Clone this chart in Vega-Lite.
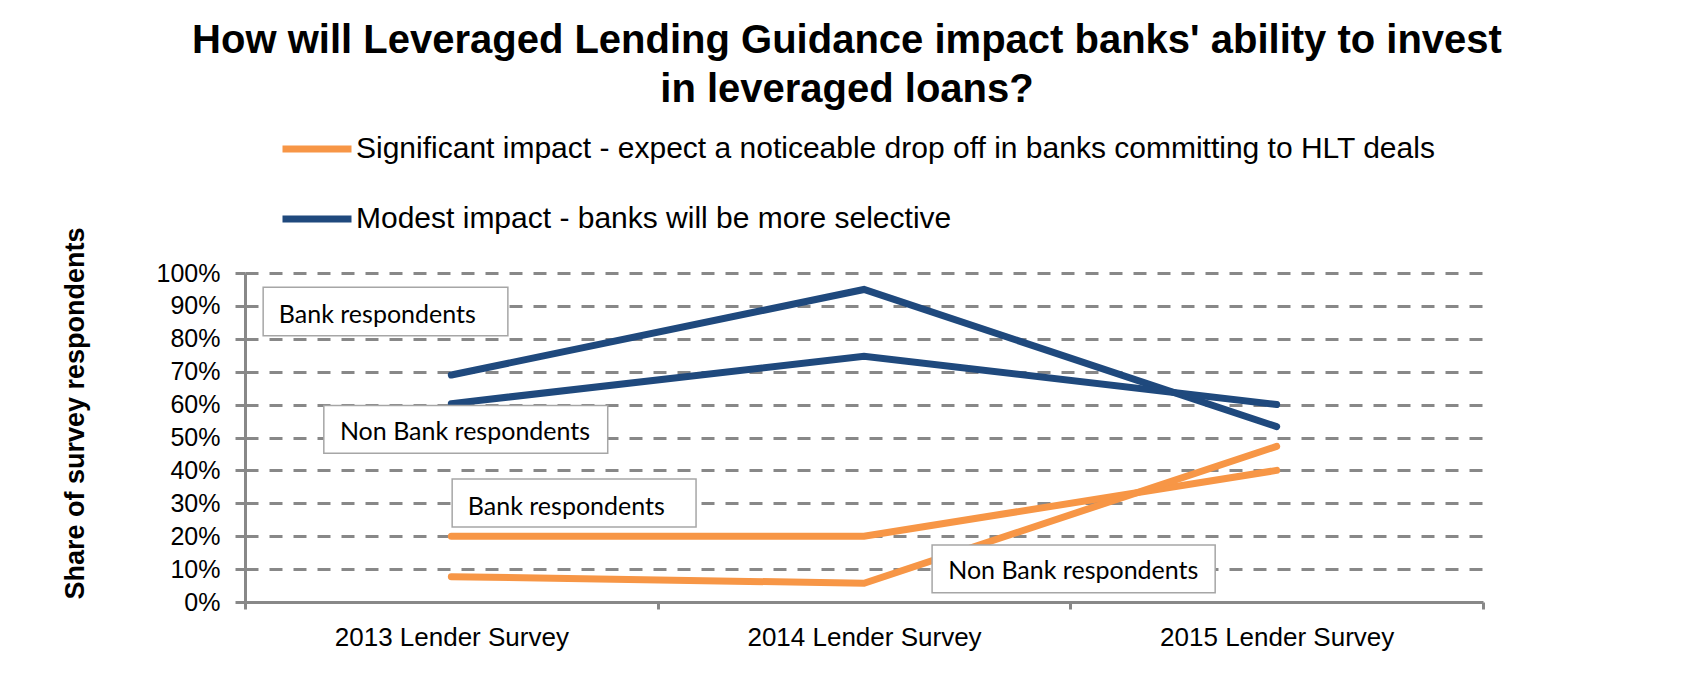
{
  "$schema": "https://vega.github.io/schema/vega-lite/v6.json",
  "width": 1238,
  "height": 329,
  "autosize": {"type": "none"},
  "padding": {"left": 245, "top": 273, "right": 217, "bottom": 95},
  "background": "white",
  "config": {
    "view": {"stroke": null},
    "font": "Liberation Sans"
  },
  "title": {
    "text": ["How will Leveraged Lending Guidance impact banks' ability to invest", "in leveraged loans?"],
    "font": "Liberation Sans",
    "fontSize": 40,
    "fontWeight": "bold",
    "lineHeight": 49,
    "color": "black",
    "anchor": "middle",
    "frame": "group",
    "dx": -17,
    "dy": 9,
    "offset": 10
  },
  "datasets": {
    "lines": [
      {"survey": "2013 Lender Survey", "impact": "Significant impact - expect a noticeable drop off in banks committing to HLT deals", "respondent": "Bank", "share": 20},
      {"survey": "2014 Lender Survey", "impact": "Significant impact - expect a noticeable drop off in banks committing to HLT deals", "respondent": "Bank", "share": 20},
      {"survey": "2015 Lender Survey", "impact": "Significant impact - expect a noticeable drop off in banks committing to HLT deals", "respondent": "Bank", "share": 40},
      {"survey": "2013 Lender Survey", "impact": "Significant impact - expect a noticeable drop off in banks committing to HLT deals", "respondent": "Non Bank", "share": 7.7},
      {"survey": "2014 Lender Survey", "impact": "Significant impact - expect a noticeable drop off in banks committing to HLT deals", "respondent": "Non Bank", "share": 5.7},
      {"survey": "2015 Lender Survey", "impact": "Significant impact - expect a noticeable drop off in banks committing to HLT deals", "respondent": "Non Bank", "share": 47.3},
      {"survey": "2013 Lender Survey", "impact": "Modest impact - banks will be more selective", "respondent": "Bank", "share": 69},
      {"survey": "2014 Lender Survey", "impact": "Modest impact - banks will be more selective", "respondent": "Bank", "share": 95},
      {"survey": "2015 Lender Survey", "impact": "Modest impact - banks will be more selective", "respondent": "Bank", "share": 53.3},
      {"survey": "2013 Lender Survey", "impact": "Modest impact - banks will be more selective", "respondent": "Non Bank", "share": 60.3},
      {"survey": "2014 Lender Survey", "impact": "Modest impact - banks will be more selective", "respondent": "Non Bank", "share": 74.7},
      {"survey": "2015 Lender Survey", "impact": "Modest impact - banks will be more selective", "respondent": "Non Bank", "share": 60}
    ],
    "boxes": [
      {"label": "Bank respondents", "x1": 0.044, "x2": 0.637, "y1": 80.9, "y2": 95.7, "tx": 0.082, "ty": 84.8},
      {"label": "Non Bank respondents", "x1": 0.191, "x2": 0.879, "y1": 45.2, "y2": 59.7, "tx": 0.230, "ty": 49.2},
      {"label": "Bank respondents", "x1": 0.502, "x2": 1.093, "y1": 22.8, "y2": 37.4, "tx": 0.540, "ty": 26.4},
      {"label": "Non Bank respondents", "x1": 1.665, "x2": 2.351, "y1": 2.8, "y2": 17.3, "tx": 1.704, "ty": 6.9}
    ]
  },
  "layer": [
    {
      "data": {"name": "lines"},
      "mark": {"type": "line", "strokeWidth": 7, "strokeCap": "round"},
      "encoding": {
        "x": {
          "field": "survey", "type": "nominal",
          "scale": {"type": "band", "paddingInner": 0, "paddingOuter": 0},
          "axis": {
            "title": null,
            "labelAngle": 0,
            "labelFont": "Liberation Sans",
            "labelFontSize": 26,
            "labelColor": "black",
            "labelPadding": 15,
            "labelLimit": 1000,
            "tickBand": "extent",
            "tickSize": 7,
            "tickWidth": 3,
            "tickColor": "#888888",
            "domainColor": "#888888",
            "domainWidth": 3,
            "grid": false
          }
        },
        "y": {
          "field": "share", "type": "quantitative",
          "scale": {"domain": [0, 100], "nice": false},
          "axis": {
            "title": "Share of survey respondents",
            "titleFont": "Liberation Sans",
            "titleFontSize": 27,
            "titleFontWeight": "bold",
            "titleColor": "black",
            "titleAngle": -90,
            "titleX": -162,
            "titleY": 140,
            "titleAlign": "center",
            "titleBaseline": "alphabetic",
            "values": [0, 10, 20, 30, 40, 50, 60, 70, 80, 90, 100],
            "tickCount": 11,
            "labelOverlap": false,
            "labelExpr": "datum.value + '%'",
            "labelFont": "Liberation Sans",
            "labelFontSize": 25,
            "labelColor": "black",
            "labelPadding": 15,
            "tickSize": 10,
            "tickWidth": 3,
            "tickColor": "#888888",
            "domainColor": "#888888",
            "domainWidth": 3,
            "grid": true,
            "gridColor": "#888888",
            "gridDash": [13, 11],
            "gridWidth": 3
          }
        },
        "color": {
          "field": "impact", "type": "nominal",
          "scale": {
            "domain": ["Significant impact - expect a noticeable drop off in banks committing to HLT deals", "Modest impact - banks will be more selective"],
            "range": ["#F79646", "#1F497D"]
          },
          "legend": {
            "title": null,
            "orient": "none",
            "legendX": 34,
            "legendY": -162,
            "symbolType": "stroke",
            "symbolSize": 4761,
            "symbolStrokeWidth": 7,
            "labelFont": "Liberation Sans",
            "labelFontSize": 30,
            "labelColor": "black",
            "labelOffset": 1,
            "labelLimit": 2000,
            "rowPadding": 17
          }
        },
        "detail": {"field": "respondent", "type": "nominal"}
      }
    },
    {
      "data": {"name": "boxes"},
      "mark": {"type": "rect", "fill": "white", "stroke": "#a6a6a6", "strokeWidth": 1.5},
      "encoding": {
        "x": {"field": "x1", "type": "quantitative", "scale": {"domain": [0, 3], "nice": false, "zero": false}, "axis": null},
        "x2": {"field": "x2"},
        "y": {"field": "y1", "type": "quantitative"},
        "y2": {"field": "y2"}
      }
    },
    {
      "data": {"name": "boxes"},
      "mark": {"type": "text", "font": "Lato", "fontSize": 25, "color": "black", "align": "left", "baseline": "alphabetic"},
      "encoding": {
        "x": {"field": "tx", "type": "quantitative", "scale": {"domain": [0, 3], "nice": false, "zero": false}, "axis": null},
        "y": {"field": "ty", "type": "quantitative"},
        "text": {"field": "label"}
      }
    }
  ],
  "resolve": {"scale": {"x": "independent"}, "axis": {"x": "independent"}}
}
